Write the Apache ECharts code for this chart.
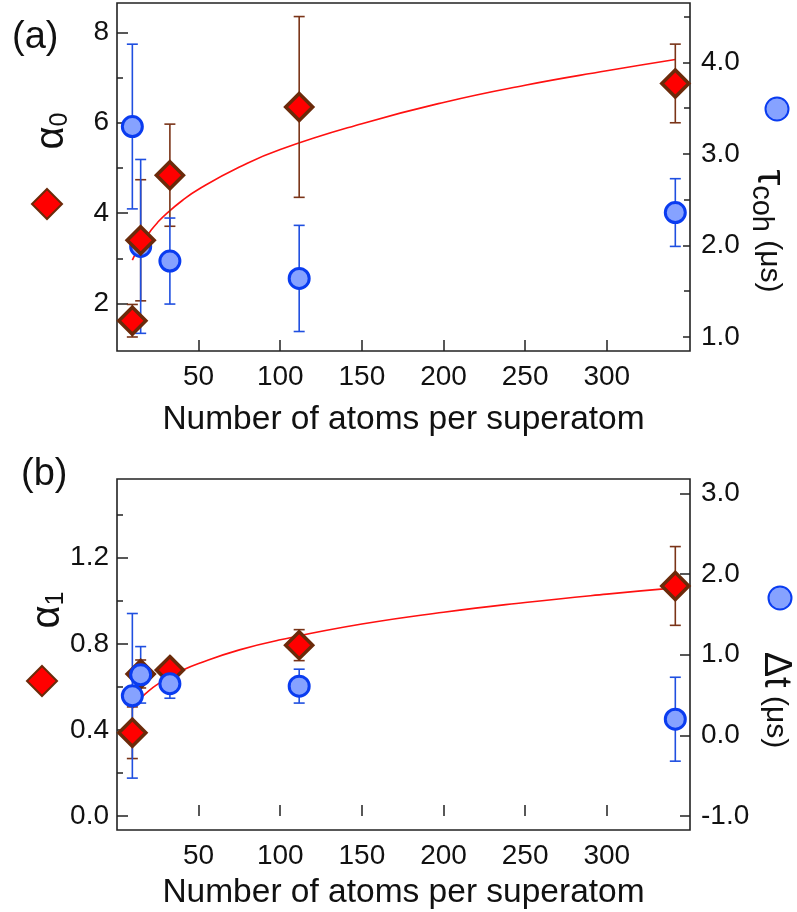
<!DOCTYPE html>
<html>
<head>
<meta charset="utf-8">
<script src="https://cdn.jsdelivr.net/npm/echarts@6/dist/echarts.min.js"></script>
<style>
  html, body { margin: 0; padding: 0; background: #fff; }
  #chart { width: 797px; height: 912px; }
</style>
</head>
<body>
<div id="chart"></div>
<script>
// Superatom size (number of atoms) for each measurement
const atomCounts = [9.4, 14.5, 32.4, 111.6, 342];

// Panel (a): alpha_0 (left axis) and coherence time tau_coh in us (right axis)
const alpha0 = [1.62, 3.40, 4.84, 6.35, 6.87];
const alpha0Err = [0.36, 1.34, 1.13, 2.00, 0.87];
const tauCoh = [3.30, 1.99, 1.83, 1.64, 2.36];
const tauCohErr = [0.90, 0.95, 0.47, 0.58, 0.37];

// Panel (b): alpha_1 (left axis) and delay Delta t in us (right axis)
const alpha1 = [0.387, 0.66, 0.678, 0.794, 1.069];
const alpha1Err = [0.12, 0.065, 0.03, 0.072, 0.183];
const deltaT = [0.49, 0.75, 0.64, 0.61, 0.20];
const deltaTErr = [1.02, 0.35, 0.18, 0.21, 0.52];

// Fitted curves, sampled along N
const fitN = [9.4, 12, 15, 20, 25, 30, 40, 50, 75, 100, 150, 200, 250, 300, 342];
const fitAlpha0 = [2.96, 3.15, 3.33, 3.58, 3.80, 3.98, 4.28, 4.53, 5.02, 5.41, 5.98, 6.45, 6.83, 7.15, 7.40];
const fitAlpha1 = [0.50, 0.526, 0.551, 0.585, 0.613, 0.637, 0.677, 0.709, 0.772, 0.819, 0.892, 0.947, 0.992, 1.031, 1.06];

// Tick values
const xTicks = [50, 100, 150, 200, 250, 300];
const aTopMajor = [2, 4, 6, 8];
const aTopMinor = [3, 5, 7];
const tauMajor = [1, 2, 3, 4];
const tauMinor = [1.5, 2.5, 3.5, 4.5];
const aBotMajor = [0, 0.4, 0.8, 1.2];
const aBotMinor = [0.2, 0.6, 1.0, 1.4];
const dtMajor = [-1, 0, 1, 2, 3];

const FONT = 'Liberation Sans, Arial, sans-serif';
const TXT = '#111';
const RED_FILL = '#ff0000';
const RED_EDGE = '#6b2a0a';
const RED_BAR = '#7a3418';
const BLUE_FILL = '#86a2ff';
const BLUE_EDGE = '#0a3cf0';
const BLUE_BAR = '#1f4fe0';

const zip = (xs, ys) => xs.map((x, i) => [x, ys[i]]);
const zipErr = (xs, ys, es) => xs.map((x, i) => [x, ys[i] - es[i], ys[i] + es[i]]);

// Vertical error bar with end caps, placed through the series' own axes
function errBar(params, api) {
  const x = api.value(0);
  const pLo = api.coord([x, api.value(1)]);
  const pHi = api.coord([x, api.value(2)]);
  const hw = 5.5;
  const style = { stroke: api.visual('color'), lineWidth: 1.6 };
  return {
    type: 'group',
    children: [
      { type: 'line', shape: { x1: pLo[0], y1: pLo[1], x2: pHi[0], y2: pHi[1] }, style },
      { type: 'line', shape: { x1: pLo[0] - hw, y1: pLo[1], x2: pLo[0] + hw, y2: pLo[1] }, style },
      { type: 'line', shape: { x1: pHi[0] - hw, y1: pHi[1], x2: pHi[0] + hw, y2: pHi[1] }, style }
    ]
  };
}

function xAxisFor(gridIndex, nameGap, margin) {
  return {
    type: 'value', gridIndex, min: 0, max: 351,
    name: 'Number of atoms per superatom', nameLocation: 'middle', nameGap,
    nameTextStyle: { fontFamily: FONT, fontSize: 33.5, color: TXT },
    axisLine: { show: false },
    axisTick: { show: true, inside: true, length: 11, customValues: xTicks, lineStyle: { color: '#222', width: 1.5 } },
    axisLabel: { customValues: xTicks, margin, fontFamily: FONT, fontSize: 28, color: TXT },
    splitLine: { show: false }
  };
}

function yAxisFor(gridIndex, position, min, max, major, minor, fmt, majorLen, margin) {
  const axes = [{
    type: 'value', gridIndex, position, min, max, offset: 0,
    axisLine: { show: false },
    axisTick: { show: true, inside: true, length: majorLen, customValues: major, lineStyle: { color: '#222', width: 1.5 } },
    axisLabel: { customValues: major, margin, fontFamily: FONT, fontSize: 28, color: TXT, formatter: fmt },
    splitLine: { show: false }
  }];
  if (minor) {
    axes.push({
      type: 'value', gridIndex, position, min, max, offset: 0,
      axisLine: { show: false },
      axisTick: { show: true, inside: true, length: 6, customValues: minor, lineStyle: { color: '#222', width: 1.5 } },
      axisLabel: { show: false },
      splitLine: { show: false }
    });
  }
  return axes;
}

const fmtInt = v => String(Math.round(v));
const fmt1 = v => v.toFixed(1);

const yAxes = [
  ...yAxisFor(0, 'left', 0.95, 8.65, aTopMajor, aTopMinor, fmtInt, 11, 8),   // 0,1
  ...yAxisFor(0, 'right', 0.847, 4.65, tauMajor, tauMinor, fmt1, 7, 11),     // 2,3
  ...yAxisFor(1, 'left', -0.065, 1.566, aBotMajor, aBotMinor, fmt1, 11, 8),  // 4,5
  ...yAxisFor(1, 'right', -1.173, 3.177, dtMajor, null, fmt1, 10, 11)        // 6
];

const diamondStyle = { color: RED_FILL, borderColor: RED_EDGE, borderWidth: 3.5, opacity: 1 };
const circleStyle = { color: BLUE_FILL, borderColor: BLUE_EDGE, borderWidth: 3, opacity: 1 };

const series = [
  // panel (a)
  { name: 'fitA', type: 'line', xAxisIndex: 0, yAxisIndex: 0, data: zip(fitN, fitAlpha0),
    smooth: true, symbol: 'none', lineStyle: { color: '#ff1010', width: 1.6 }, z: 2 },
  { name: 'errA0', type: 'custom', xAxisIndex: 0, yAxisIndex: 0, data: zipErr(atomCounts, alpha0, alpha0Err),
    renderItem: errBar, itemStyle: { color: RED_BAR }, encode: { x: 0, y: [1, 2] }, z: 3 },
  { name: 'errTau', type: 'custom', xAxisIndex: 0, yAxisIndex: 2, data: zipErr(atomCounts, tauCoh, tauCohErr),
    renderItem: errBar, itemStyle: { color: BLUE_BAR }, encode: { x: 0, y: [1, 2] }, z: 3 },
  { name: 'τcoh', type: 'scatter', xAxisIndex: 0, yAxisIndex: 2, data: zip(atomCounts, tauCoh),
    symbol: 'circle', symbolSize: 20, itemStyle: circleStyle, z: 4 },
  { name: 'α0', type: 'scatter', xAxisIndex: 0, yAxisIndex: 0, data: zip(atomCounts, alpha0),
    symbol: 'diamond', symbolSize: 27, itemStyle: diamondStyle, z: 5 },
  // panel (b)
  { name: 'fitB', type: 'line', xAxisIndex: 1, yAxisIndex: 4, data: zip(fitN, fitAlpha1),
    smooth: true, symbol: 'none', lineStyle: { color: '#ff1010', width: 1.6 }, z: 2 },
  { name: 'errA1', type: 'custom', xAxisIndex: 1, yAxisIndex: 4, data: zipErr(atomCounts, alpha1, alpha1Err),
    renderItem: errBar, itemStyle: { color: RED_BAR }, encode: { x: 0, y: [1, 2] }, z: 3 },
  { name: 'errDt', type: 'custom', xAxisIndex: 1, yAxisIndex: 6, data: zipErr(atomCounts, deltaT, deltaTErr),
    renderItem: errBar, itemStyle: { color: BLUE_BAR }, encode: { x: 0, y: [1, 2] }, z: 3 },
  { name: 'α1', type: 'scatter', xAxisIndex: 1, yAxisIndex: 4, data: zip(atomCounts, alpha1),
    symbol: 'diamond', symbolSize: 27, itemStyle: diamondStyle, z: 4 },
  { name: 'Δt', type: 'scatter', xAxisIndex: 1, yAxisIndex: 6, data: zip(atomCounts, deltaT),
    symbol: 'circle', symbolSize: 20, itemStyle: circleStyle, z: 5 }
];

// Legend swatch without text, centred on (cx, cy)
function marker(name, cx, cy, size) {
  return {
    data: [name], left: cx - size / 2, top: cy - size / 2, padding: 0, itemGap: 0,
    itemWidth: size, itemHeight: size, selectedMode: false,
    itemStyle: { opacity: 1 },
    formatter: () => '', textStyle: { fontSize: 1 }
  };
}

function label(x, y, rot, text, rich) {
  return {
    type: 'text', x, y, rotation: rot,
    style: { text, rich, align: 'center', verticalAlign: 'middle', fill: TXT, fontFamily: FONT }
  };
}

const chart = echarts.init(document.getElementById('chart'), null, { renderer: 'canvas' });
chart.setOption({
  animation: false,
  backgroundColor: '#fff',
  grid: [
    { left: 117, top: 3, width: 573, height: 348, show: true, borderColor: '#222', borderWidth: 1.6, backgroundColor: 'transparent' },
    { left: 117, top: 479, width: 573, height: 351, show: true, borderColor: '#222', borderWidth: 1.6, backgroundColor: 'transparent' }
  ],
  xAxis: [xAxisFor(0, 52, 12), xAxisFor(1, 46, 12)],
  yAxis: yAxes,
  legend: [
    marker('α0', 46, 203, 30),
    marker('τcoh', 776, 108, 23),
    marker('α1', 41, 680, 30),
    marker('Δt', 779, 597, 23)
  ],
  graphic: [
    { type: 'text', left: 12, top: 19, style: { text: '(a)', fontSize: 38, fontFamily: FONT, fill: TXT } },
    { type: 'text', left: 21, top: 456, style: { text: '(b)', fontSize: 38, fontFamily: FONT, fill: TXT } },
    label(52, 131, Math.PI / 2, '{g|α}{s|0}', {
      g: { fontSize: 40, fontFamily: FONT, fill: TXT },
      s: { fontSize: 25, fontFamily: FONT, fill: TXT, padding: [16, 0, 0, 0] }
    }),
    label(769, 231, -Math.PI / 2, '{g|τ}{s|coh}{u| (μs)}', {
      g: { fontSize: 40, fontFamily: FONT, fill: TXT },
      s: { fontSize: 29, fontFamily: FONT, fill: TXT, padding: [16, 0, 0, 0] },
      u: { fontSize: 30, fontFamily: FONT, fill: TXT }
    }),
    label(48, 610, Math.PI / 2, '{g|α}{s|1}', {
      g: { fontSize: 40, fontFamily: FONT, fill: TXT },
      s: { fontSize: 25, fontFamily: FONT, fill: TXT, padding: [16, 0, 0, 0] }
    }),
    label(775, 700, -Math.PI / 2, '{g|Δt}{u| (μs)}', {
      g: { fontSize: 38, fontFamily: FONT, fill: TXT },
      u: { fontSize: 30, fontFamily: FONT, fill: TXT }
    })
  ],
  series
});
</script>
</body>
</html>
